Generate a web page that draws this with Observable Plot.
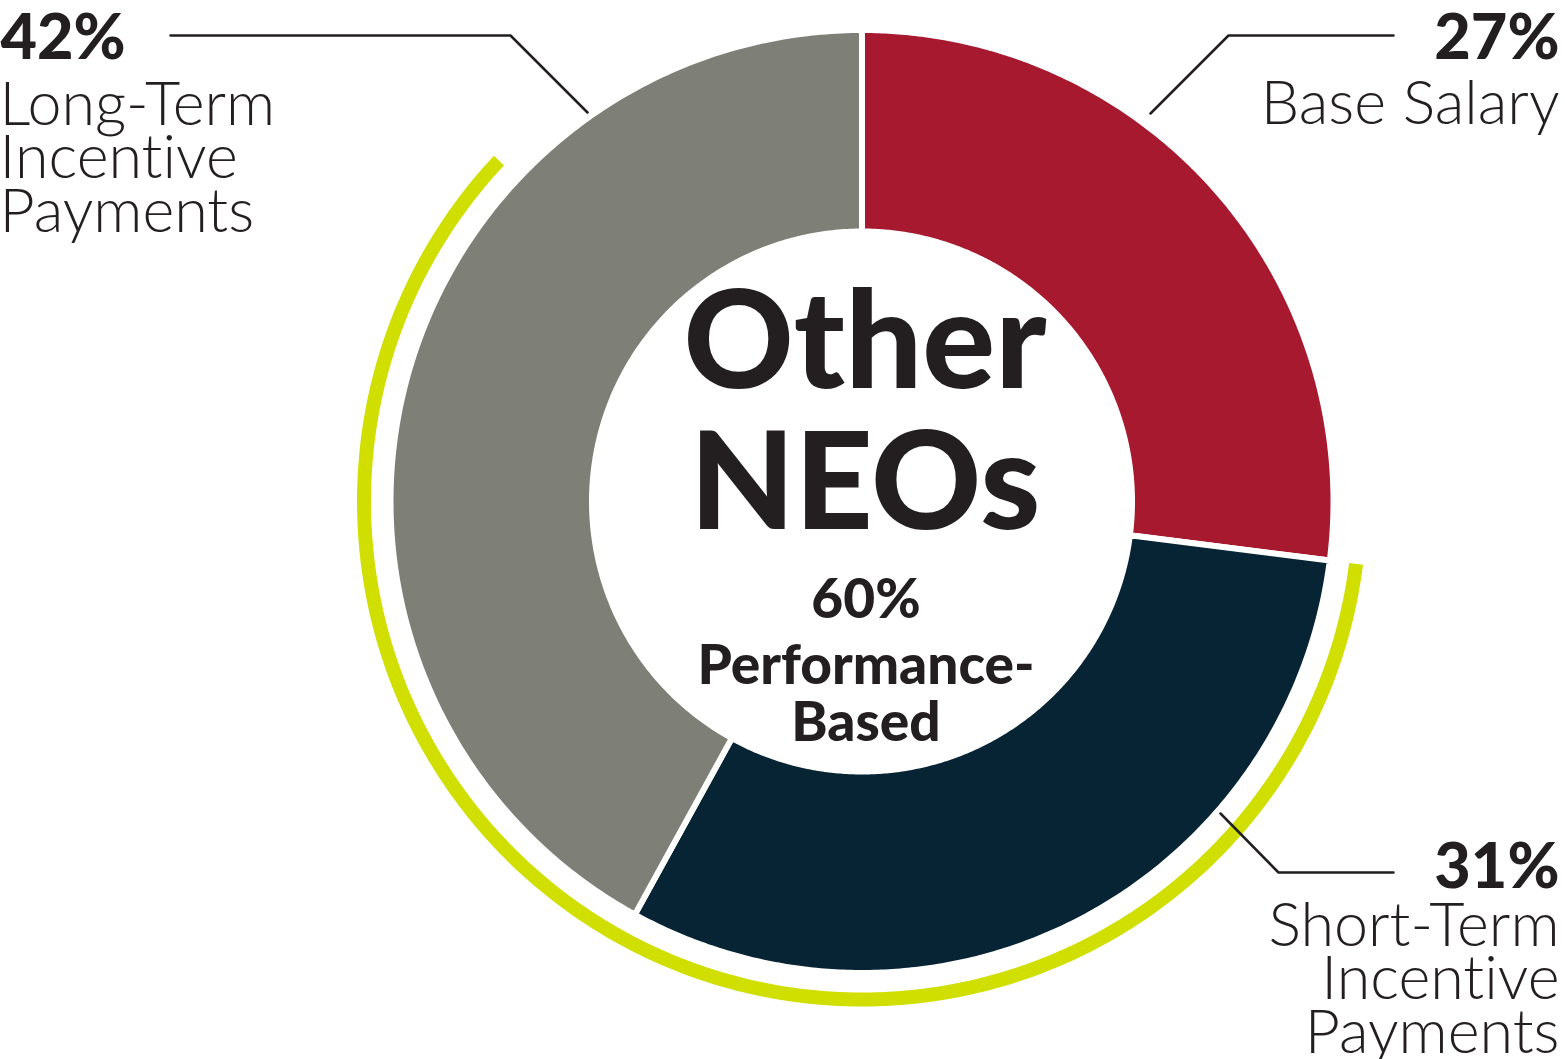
<!DOCTYPE html>
<html>
<head>
<meta charset="utf-8">
<script src="https://cdn.jsdelivr.net/npm/d3@7"></script>
<script src="https://cdn.jsdelivr.net/npm/@observablehq/plot@0.6"></script>
<style>
  html, body { margin: 0; padding: 0; background: #ffffff; }
  #chart svg { display: block; font-variant-ligatures: none; font-feature-settings: "liga" 0, "clig" 0; }
</style>
</head>
<body>
<div id="chart"></div>
<script>
// ---- data ----
const categories = ["Base Salary", "Short-Term Incentive Payments", "Long-Term Incentive Payments"];
const labelLines = ["Base Salary", "Short-Term\nIncentive\nPayments", "Long-Term\nIncentive\nPayments"];
const values = [27, 31, 42];
const colors = ["#A6192E", "#062433", "#7E8078"];
const performanceShare = 60;           // % performance-based (STI + LTI)
const centerTitle = ["Other", "NEOs"];
const centerSub = ["60%", "Performance-", "Based"];

// ---- layout (pixels, origin at donut centre, y down) ----
const W = 1565, H = 1059;
const CX = 861.5, CY = 501;
const rOuter = 471.5, rInner = 270, gapStroke = 6;
const rGreenOuter = 505, rGreenInner = 491;
const ink = "#231F20";
const green = "#D0DF00";
const font = "Lato, 'Open Sans', sans-serif";

const total = d3.sum(values);
const starts = d3.cumsum([0, ...values]).slice(0, values.length);

function arcPoints(r, a0, a1, n = 240) {
  const pts = [];
  for (let k = 0; k <= n; k++) {
    const a = (a0 + (a1 - a0) * k / n) * Math.PI / 180;
    pts.push({x: r * Math.sin(a), y: -r * Math.cos(a)});
  }
  return pts;
}
function ring(key, r0, r1, a0, a1) {
  const outer = arcPoints(r1, a0, a1);
  const inner = arcPoints(r0, a0, a1).reverse();
  return [...outer, ...inner].map(p => ({...p, key}));
}

const slices = categories.map((c, i) =>
  ring(c, rInner, rOuter, starts[i] / total * 360, (starts[i] + values[i]) / total * 360));

const greenStart = starts[1] / total * 360;
const greenEnd = greenStart + performanceShare / 100 * 360;
const greenBand = ring("perf", rGreenInner, rGreenOuter, greenStart, greenEnd);

// leader lines (pixel layout, converted to centred coords)
const leaders = [
  [[1393, 35], [1228, 35], [1150, 113]],
  [[1393, 872], [1278, 872], [1220, 813]],
  [[170, 35], [510, 35], [587, 112]]
].map((pts, i) => pts.map(([x, y]) => ({x: x - CX, y: y - CY, key: i})));

// label text placement
const labelPos = [
  {pctX: 1559, pctY: 58, nameX: 1559, nameY: 123, anchor: "end"},
  {pctX: 1559, pctY: 887, nameX: 1559, nameY: 1052, anchor: "end"},
  {pctX: 0, pctY: 58, nameX: -1, nameY: 231, anchor: "start"}
];
const pctLabels = values.map((v, i) => ({x: labelPos[i].pctX - CX, y: labelPos[i].pctY - CY, text: v + "%", anchor: labelPos[i].anchor}));
const nameLabels = labelLines.map((t, i) => ({x: labelPos[i].nameX - CX, y: labelPos[i].nameY - CY, text: t, anchor: labelPos[i].anchor}));

const marks = [];
slices.forEach((pts, i) => {
  marks.push(Plot.line(pts, {x: "x", y: "y", fill: colors[i], stroke: "#ffffff", strokeWidth: gapStroke, curve: "linear-closed"}));
});
marks.push(Plot.line(greenBand, {x: "x", y: "y", fill: green, stroke: "none", curve: "linear-closed"}));
leaders.forEach(pts => marks.push(Plot.line(pts, {x: "x", y: "y", stroke: ink, strokeWidth: 2.5, strokeLinejoin: "miter"})));

["start", "end"].forEach(anchor => {
  marks.push(Plot.text(pctLabels.filter(d => d.anchor === anchor), {
    x: "x", y: "y", text: "text", textAnchor: anchor, lineAnchor: "bottom",
    fontSize: 63, fontWeight: 900, fontFamily: font, fill: ink, ariaLabel: "pct"
  }));
  marks.push(Plot.text(nameLabels.filter(d => d.anchor === anchor), {
    x: "x", y: "y", text: "text", textAnchor: anchor, lineAnchor: "bottom",
    fontSize: 61, fontWeight: 300, fontFamily: font, fill: ink, lineHeight: 0.87, ariaLabel: "name"
  }));
});

// centre text
marks.push(Plot.text([{t: centerTitle[0], y: 387 - CY}, {t: centerTitle[1], y: 528 - CY}], {
  x: 3, y: "y", text: "t", textAnchor: "middle", lineAnchor: "bottom",
  fontSize: 136, fontWeight: 900, fontFamily: font, fill: ink, ariaLabel: "title"
}));
marks.push(Plot.text([{t: centerSub[0], y: 617 - CY}, {t: centerSub[1], y: 683 - CY}, {t: centerSub[2], y: 740 - CY}], {
  x: 4, y: "y", text: "t", textAnchor: "middle", lineAnchor: "bottom",
  fontSize: 55, fontWeight: 900, fontFamily: font, fill: ink, ariaLabel: "sub"
}));

const chart = Plot.plot({
  width: W, height: H,
  margin: 0,
  x: {domain: [-CX, W - CX], range: [0, W], axis: null},
  y: {domain: [-CY, H - CY], range: [0, H], axis: null},
  style: {background: "#ffffff", overflow: "visible"},
  marks
});
// typographic tracking to mimic the wider original typeface
const tracking = {pct: "1px", name: "3px", title: "6px", sub: "8px"};
Object.entries(tracking).forEach(([k, v]) => {
  d3.select(chart).selectAll(`g[aria-label="${k}"] text`).style("letter-spacing", v);
});
document.getElementById("chart").appendChild(chart);
</script>
</body>
</html>
